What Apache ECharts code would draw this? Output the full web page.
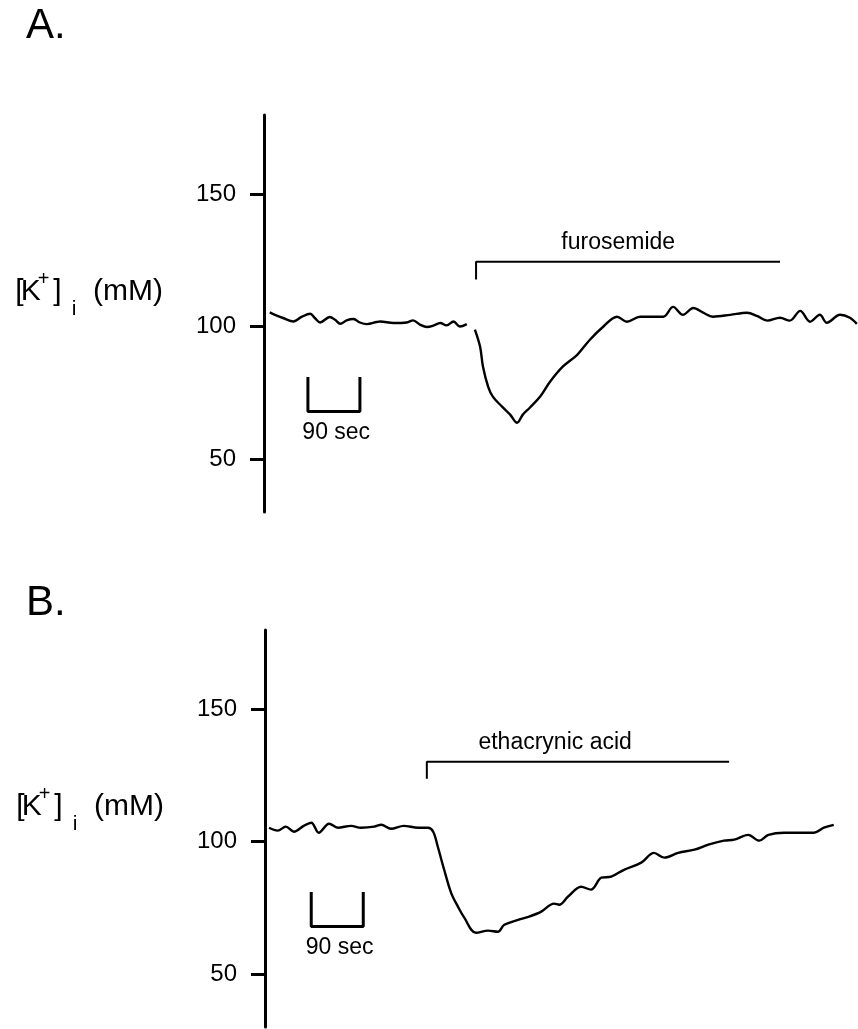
<!DOCTYPE html>
<html>
<head>
<meta charset="utf-8">
<script src="https://cdn.jsdelivr.net/npm/echarts@6/dist/echarts.min.js"></script>
<style>
  html, body { margin: 0; padding: 0; background: #fff; }
</style>
</head>
<body>
<div id="main" style="width: 858px; height: 1029px"></div>
<script>
// time in seconds, [K+]i in mM

// panel A: baseline before furosemide
const timeA1 = [10, 19, 33, 51, 65, 80, 88, 97, 114, 123, 132, 143, 155, 166, 178, 195, 201, 224, 247, 258, 270, 282, 293, 305, 316, 328, 339, 351]
const kA1 = [105.4, 104.5, 103.3, 102.0, 103.7, 104.9, 103.3, 101.6, 103.7, 102.6, 101.1, 102.4, 102.9, 101.6, 101.0, 101.8, 102.0, 101.4, 101.6, 102.4, 100.8, 99.9, 100.4, 101.4, 100.5, 102.0, 100.1, 101.0]
// panel A: during furosemide
const timeA2 = [365, 374, 379, 388, 396, 412, 426, 438, 448, 460, 478, 495, 517, 542, 564, 587, 611, 628, 651, 668, 691, 708, 725, 743, 760, 777, 807, 836, 853, 871, 893, 910, 928, 945, 962, 974, 997, 1014, 1026]
const kA2 = [98.9, 92.4, 84.9, 77.3, 73.6, 69.8, 66.8, 63.7, 66.8, 69.4, 73.6, 79.2, 84.9, 89.4, 95.1, 100.0, 103.8, 101.9, 103.8, 103.8, 103.8, 107.5, 104.5, 107.1, 105.3, 103.8, 104.5, 105.3, 104.1, 102.3, 103.4, 102.3, 106.0, 101.9, 104.5, 101.5, 104.5, 103.4, 101.1]

// panel B: ethacrynic acid
const timeB = [7, 22, 36, 50, 67, 80, 93, 111, 126, 149, 166, 189, 201, 218, 240, 265, 282, 291, 299, 310, 322, 334, 344, 365, 386, 403, 414, 438, 457, 478, 500, 509, 524, 547, 564, 582, 599, 621, 651, 673, 691, 715, 743, 767, 794, 812, 836, 855, 871, 898, 928, 950, 967, 984]
const kB = [105.3, 104.2, 105.7, 103.8, 106.0, 107.2, 103.4, 106.8, 105.3, 106.0, 105.3, 105.7, 106.4, 104.9, 106.0, 105.3, 105.3, 103.8, 98.1, 89.4, 80.7, 75.4, 71.6, 65.6, 66.4, 66.0, 68.6, 70.5, 71.7, 73.6, 76.6, 76.2, 79.2, 83.0, 81.9, 86.4, 86.8, 89.4, 92.1, 95.8, 94.0, 95.8, 97.0, 98.9, 100.4, 100.8, 102.6, 100.4, 102.6, 103.4, 103.4, 103.4, 105.3, 106.4]

const yTicks = [50, 100, 150]

// drug application brackets: start, end, bar level, lower end of the left leg, label place
const drugA = { name: 'furosemide', start: 367, end: 893, top: 124.6, low: 117.8, labelX: 613, labelY: 131.7 }
const drugB = { name: 'ethacrynic acid', start: 280, end: 803, top: 130.2, low: 123.8, labelX: 502, labelY: 137.4 }

// 90 sec scale bars: start time, length, top and bottom levels
const scaleA = { start: 76, len: 90, top: 81, low: 68, labelY: 60 }
const scaleB = { start: 80, len: 90, top: 81, low: 68, labelY: 60 }

const zip = (xs, ys) => xs.map((x, i) => [x, ys[i]])

const font = 'Liberation Sans, Arial, Helvetica, sans-serif'

function bracket(d, idx) {
  return {
    type: 'line', xAxisIndex: idx, yAxisIndex: idx, symbol: 'none', silent: true,
    lineStyle: { color: '#000', width: 2 },
    data: [[d.start, d.low], [d.start, d.top], [d.end, d.top]],
  }
}
function scaleBar(s, idx) {
  return {
    type: 'line', xAxisIndex: idx, yAxisIndex: idx, symbol: 'none', silent: true,
    lineStyle: { color: '#000', width: 3 },
    data: [[s.start, s.top], [s.start, s.low], [s.start + s.len, s.low], [s.start + s.len, s.top]],
  }
}
function labels(d, s, idx) {
  return {
    type: 'scatter', xAxisIndex: idx, yAxisIndex: idx, silent: true,
    symbolSize: 1, itemStyle: { color: 'rgba(0,0,0,0)', opacity: 1 },
    label: {
      show: true, position: 'inside', formatter: '{b}', color: '#000',
      textBorderWidth: 0, fontFamily: font, fontSize: 23,
    },
    data: [
      { name: d.name, value: [d.labelX, d.labelY] },
      { name: '90 sec', value: [s.start + s.len / 2 + 4, s.labelY] },
    ],
  }
}
function trace(xs, ys, idx) {
  return {
    type: 'line', xAxisIndex: idx, yAxisIndex: idx, symbol: 'none', silent: true,
    smooth: 0.35,
    lineStyle: { color: '#000', width: 2.4 },
    data: zip(xs, ys),
  }
}

const txt = { fontFamily: font, color: '#000' }

function yAxisFor(idx) {
  return {
    type: 'value', gridIndex: idx, min: 30, max: 180,
    splitLine: { show: false },
    axisLine: { show: true, lineStyle: { color: '#000', width: 3 } },
    axisTick: { show: true, customValues: yTicks, length: 14, lineStyle: { color: '#000', width: 3 } },
    axisLabel: { customValues: yTicks, margin: 28, color: '#000', fontFamily: font, fontSize: 24 },
    name: '[{k|K}{sup|+}]{sub|i}  (mM)',
    nameLocation: 'middle', nameRotate: 0, nameGap: 101,
    nameTextStyle: {
      ...txt, fontSize: 30, lineHeight: 56, padding: [0, 0, 43, 0],
      rich: {
        k: { ...txt, fontSize: 30, lineHeight: 56, width: 14, align: 'left' },
        sup: { ...txt, fontSize: 20, verticalAlign: 'top', padding: [5, 4, 0, 0] },
        sub: { ...txt, fontSize: 21, verticalAlign: 'bottom', lineHeight: 21, padding: [0, 0, 0, 10] },
      },
    },
  }
}

const titleStyle = { fontFamily: font, fontSize: 42, fontWeight: 'normal', color: '#000' }

const chart = echarts.init(document.getElementById('main'))
chart.setOption({
  animation: false,
  backgroundColor: '#fff',
  title: [
    { text: 'A.', left: 26, top: 5, padding: 0, textStyle: titleStyle },
    { text: 'B.', left: 26, top: 582, padding: 0, textStyle: titleStyle },
  ],
  grid: [
    { left: 264, top: 115, width: 594, height: 397, outerBoundsMode: 'none' },
    { left: 265, top: 630, width: 593, height: 397, outerBoundsMode: 'none' },
  ],
  xAxis: [
    { type: 'value', gridIndex: 0, min: 0, max: 1028, show: false },
    { type: 'value', gridIndex: 1, min: 0, max: 1026, show: false },
  ],
  yAxis: [yAxisFor(0), yAxisFor(1)],
  series: [
    trace(timeA1, kA1, 0),
    trace(timeA2, kA2, 0),
    bracket(drugA, 0),
    scaleBar(scaleA, 0),
    labels(drugA, scaleA, 0),
    trace(timeB, kB, 1),
    bracket(drugB, 1),
    scaleBar(scaleB, 1),
    labels(drugB, scaleB, 1),
  ],
})
</script>
</body>
</html>
